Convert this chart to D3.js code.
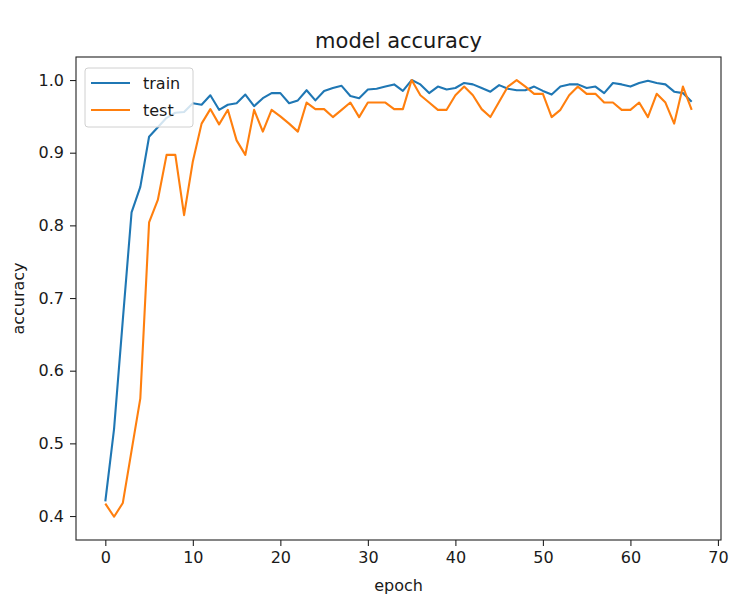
<!DOCTYPE html>
<html>
<head>
<meta charset="utf-8">
<script src="https://cdn.jsdelivr.net/npm/d3@7"></script>
<style>
  body { margin: 0; background: #fff; }
  text { font-family: "DejaVu Sans", sans-serif; fill: #1a1a1a; }
</style>
</head>
<body>
<svg width="751" height="614"></svg>
<script>

// accuracy per epoch
var train = [0.42, 0.52, 0.67, 0.818, 0.853, 0.922, 0.935, 0.948, 0.955, 0.956,
  0.968, 0.966, 0.979, 0.959, 0.966, 0.968, 0.980, 0.964, 0.975, 0.982,
  0.982, 0.968, 0.972, 0.986, 0.972, 0.985, 0.989, 0.992, 0.978, 0.975,
  0.987, 0.988, 0.991, 0.994, 0.985, 1.0, 0.994, 0.982, 0.991, 0.987,
  0.989, 0.996, 0.994, 0.989, 0.984, 0.993, 0.988, 0.986, 0.986, 0.991,
  0.985, 0.980, 0.991, 0.994, 0.994, 0.989, 0.991, 0.982, 0.996, 0.994,
  0.991, 0.996, 0.999, 0.996, 0.994, 0.984, 0.982, 0.970];

var test = [0.417, 0.399, 0.418, 0.49, 0.562, 0.804, 0.835, 0.897, 0.897, 0.814,
  0.888, 0.94, 0.960, 0.939, 0.959, 0.917, 0.897, 0.959, 0.929, 0.959,
  0.950, 0.940, 0.929, 0.969, 0.960, 0.960, 0.949, 0.959, 0.969, 0.949,
  0.969, 0.969, 0.969, 0.960, 0.960, 1.0, 0.979, 0.969, 0.959, 0.959,
  0.979, 0.991, 0.979, 0.960, 0.949, 0.970, 0.991, 1.0, 0.991, 0.981,
  0.981, 0.949, 0.959, 0.979, 0.991, 0.981, 0.981, 0.969, 0.969, 0.959,
  0.959, 0.969, 0.949, 0.981, 0.969, 0.940, 0.991, 0.959];

var xTicks = [0, 10, 20, 30, 40, 50, 60, 70];
var yTicks = [0.4, 0.5, 0.6, 0.7, 0.8, 0.9, 1.0];
var seriesNames = ["train", "test"];
var colors = ["#1f77b4", "#ff7f0e"];

var svg = d3.select("svg");
// plot box (not named top/left: window.top is taken)
var box = { left: 76, right: 721, top: 57, bottom: 540 };

var x = d3.scaleLinear().domain([-3.35, 70.35]).range([box.left, box.right]);
var y = d3.scaleLinear().domain([0.367, 1.0317]).range([box.bottom, box.top]);

// lines first, frame drawn on top like matplotlib
var line = d3.line()
  .x(function(d, i) { return x(i); })
  .y(function(d) { return y(d); });

[train, test].forEach(function(s, k) {
  svg.append("path")
    .datum(s)
    .attr("d", line)
    .attr("fill", "none")
    .attr("stroke", colors[k])
    .attr("stroke-width", 2.1)
    .attr("stroke-linejoin", "round");
});

// axes
var xAxis = d3.axisBottom(x).tickValues(xTicks).tickSize(6).tickPadding(6)
  .tickFormat(d3.format("d"));
var yAxis = d3.axisLeft(y).tickValues(yTicks).tickSize(6).tickPadding(6)
  .tickFormat(d3.format(".1f"));

var gx = svg.append("g").attr("transform", "translate(0," + box.bottom + ")").call(xAxis);
var gy = svg.append("g").attr("transform", "translate(" + box.left + ",0)").call(yAxis);

[gx, gy].forEach(function(g) {
  g.select(".domain").remove();
  g.selectAll(".tick line").attr("stroke", "#222").attr("stroke-width", 1.1);
  g.selectAll(".tick text").attr("font-size", 16).attr("fill", "#1a1a1a");
});

svg.append("rect")
  .attr("x", box.left).attr("y", box.top)
  .attr("width", box.right - box.left).attr("height", box.bottom - box.top)
  .attr("fill", "none")
  .attr("stroke", "#222")
  .attr("stroke-width", 1.1);

// labels
svg.append("text")
  .attr("x", (box.left + box.right) / 2).attr("y", 48)
  .attr("text-anchor", "middle")
  .attr("font-size", 21)
  .text("model accuracy");

svg.append("text")
  .attr("x", (box.left + box.right) / 2).attr("y", 591)
  .attr("text-anchor", "middle")
  .attr("font-size", 16)
  .text("epoch");

svg.append("text")
  .attr("transform", "translate(24," + ((box.top + box.bottom) / 2) + ") rotate(-90)")
  .attr("text-anchor", "middle")
  .attr("font-size", 16)
  .text("accuracy");

// legend
var legend = svg.append("g").attr("class", "legend");

legend.append("rect")
  .attr("x", 85).attr("y", 68)
  .attr("width", 108).attr("height", 59)
  .attr("rx", 3)
  .attr("fill", "#fff").attr("fill-opacity", 0.8)
  .attr("stroke", "#d0d0d0").attr("stroke-width", 1);

var item = legend.selectAll("g.item")
  .data(seriesNames)
  .enter().append("g")
  .attr("class", "item")
  .attr("transform", function(d, i) { return "translate(0," + (83 + i * 27) + ")"; });

item.append("line")
  .attr("x1", 91).attr("x2", 130)
  .attr("stroke", function(d, i) { return colors[i]; })
  .attr("stroke-width", 2.1);

item.append("text")
  .attr("x", 143).attr("y", 5.5)
  .attr("font-size", 16)
  .text(function(d) { return d; });

</script>
</body>
</html>
